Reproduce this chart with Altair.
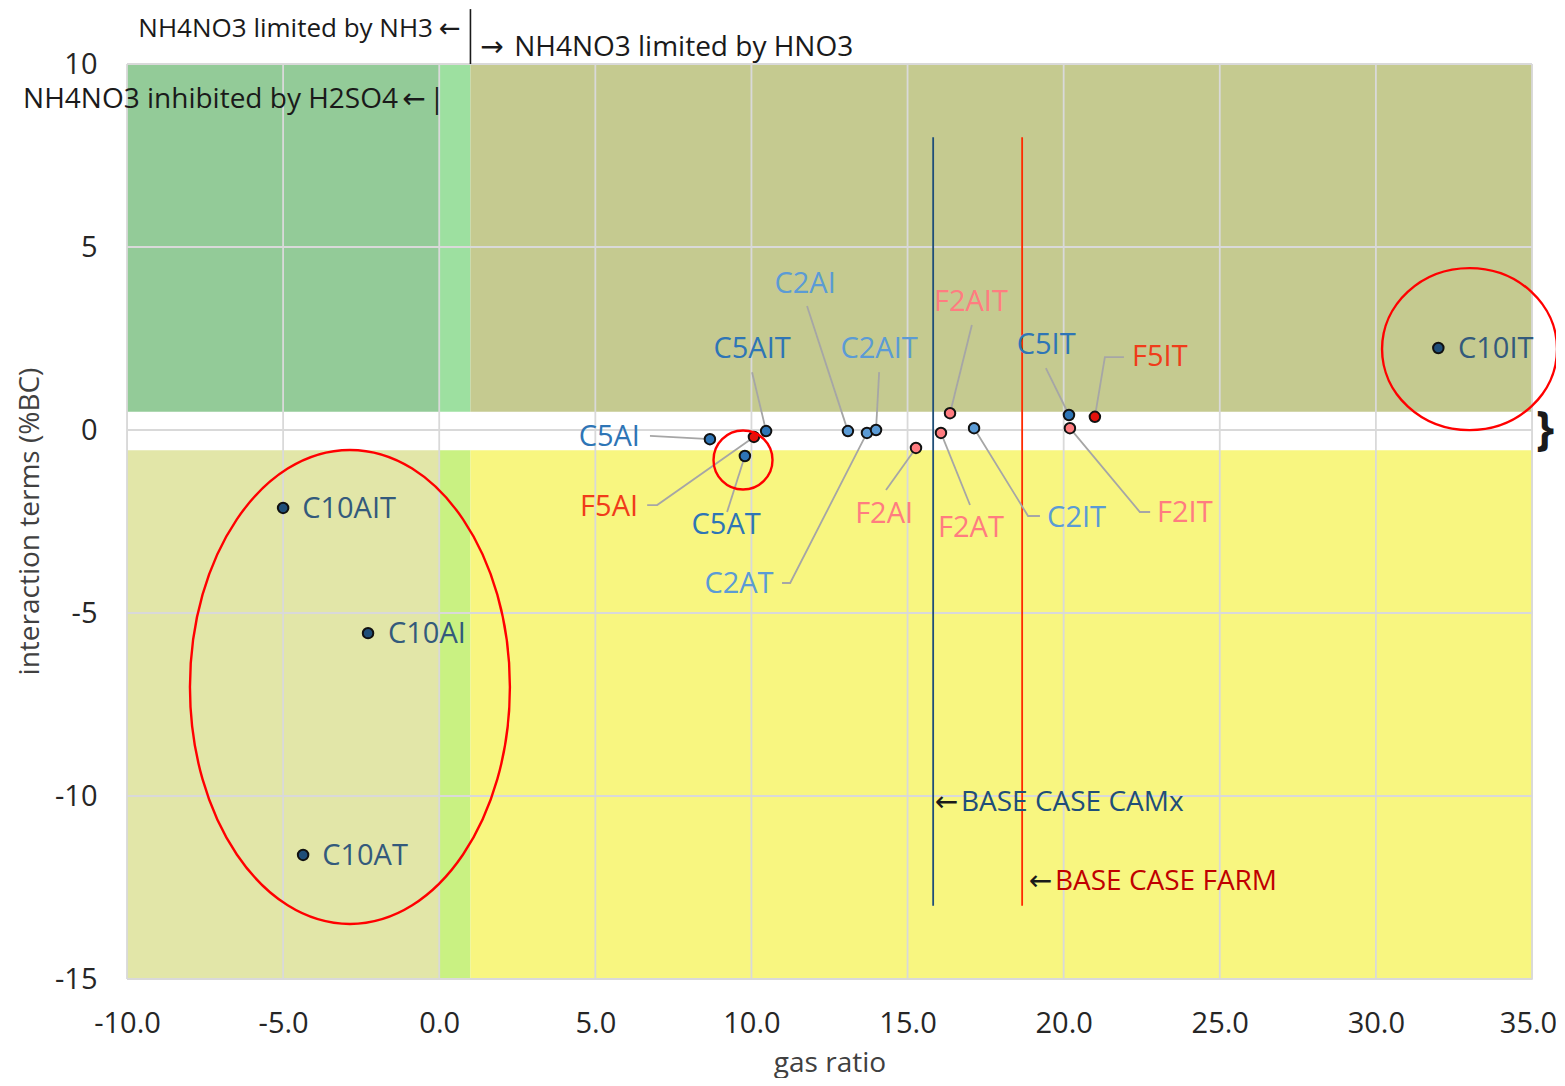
import altair as alt
import pandas as pd

FONT = "Open Sans"
ARROW_FONT = "DejaVu Sans"

# ---------------- data ----------------
names = ["C10IT", "C10AIT", "C10AI", "C10AT",
         "C5AI", "F5AI", "C5AT", "C5AIT",
         "C2AI", "C2AT", "C2AIT",
         "F2AI", "F2AT", "F2AIT",
         "C2IT", "C5IT", "F2IT", "F5IT"]
gas_ratio = [32.0, -5.0, -2.28, -4.36,
             8.67, 10.08, 9.79, 10.47,
             13.09, 13.70, 13.99,
             15.27, 16.07, 16.36,
             17.13, 20.17, 20.20, 21.0]
interaction = [2.24, -2.13, -5.55, -11.61,
               -0.25, -0.19, -0.71, -0.03,
               -0.03, -0.08, 0.0,
               -0.49, -0.08, 0.46,
               0.05, 0.41, 0.05, 0.36]
group = ["C10", "C10", "C10", "C10",
         "C5", "F5", "C5", "C5",
         "C2", "C2", "C2",
         "F2", "F2", "F2",
         "C2", "C5", "F2", "F5"]

group_fill = {"C10": "#1F4E79", "C5": "#2E75B6", "C2": "#5B9BD5",
              "F5": "#E3120B", "F2": "#FF7C80"}
group_text = {"C10": "#335A7C", "C5": "#2E75B6", "C2": "#5B9BD5",
              "F5": "#F03C1A", "F2": "#FF7C80"}

# label anchor positions (data units) and alignment
label_x = [32.63, -4.39, -1.64, -3.75,
           6.43, 6.37, 9.19, 10.02,
           11.72, 9.60, 14.09,
           14.25, 17.03, 17.03,
           19.47, 19.44, 22.99, 22.19]
label_y = [2.21, -2.16, -5.57, -11.64,
           -0.19, -2.10, -2.60, 2.21,
           3.99, -4.21, 2.21,
           -2.30, -2.68, 3.50,
           -2.40, 2.32, -2.27, 2.00]
label_align = ["left", "left", "left", "left",
               "right", "right", "center", "center",
               "center", "center", "center",
               "center", "center", "center",
               "left", "center", "left", "left"]

# leader lines (polylines from label to point), data units
leader_id = ["C5AI", "C5AI",
             "F5AI", "F5AI", "F5AI",
             "C5AT", "C5AT",
             "C5AIT", "C5AIT",
             "C2AI", "C2AI",
             "C2AIT", "C2AIT",
             "C2AT", "C2AT", "C2AT",
             "F2AIT", "F2AIT",
             "F2AI", "F2AI",
             "F2AT", "F2AT",
             "C2IT", "C2IT", "C2IT",
             "C5IT", "C5IT",
             "F5IT", "F5IT", "F5IT",
             "F2IT", "F2IT", "F2IT"]
leader_x = [6.75, 8.67,
            6.66, 6.98, 10.08,
            9.22, 9.79,
            10.02, 10.47,
            11.78, 13.09,
            14.09, 13.99,
            10.98, 11.24, 13.70,
            17.06, 16.36,
            14.31, 15.27,
            17.00, 16.07,
            19.24, 18.86, 17.13,
            19.43, 20.17,
            21.93, 21.32, 21.0,
            22.77, 22.44, 20.20]
leader_y = [-0.16, -0.25,
            -2.05, -2.05, -0.19,
            -2.24, -0.71,
            1.58, -0.03,
            3.39, -0.03,
            1.58, 0.0,
            -4.18, -4.18, -0.08,
            2.87, 0.46,
            -1.64, -0.49,
            -2.05, -0.08,
            -2.35, -2.35, 0.05,
            1.69, 0.41,
            1.99, 1.99, 0.36,
            -2.24, -2.24, 0.05]
leader_seq = [0, 1,
              0, 1, 2,
              0, 1,
              0, 1,
              0, 1,
              0, 1,
              0, 1, 2,
              0, 1,
              0, 1,
              0, 1,
              0, 1, 2,
              0, 1,
              0, 1, 2,
              0, 1, 2]

# background regions
bg_x1 = [-10, 0, 1, -10, 0, 1]
bg_x2 = [0, 1, 35, 0, 1, 35]
bg_y1 = [0.5, 0.5, 0.5, -15, -15, -15]
bg_y2 = [10, 10, 10, -0.55, -0.55, -0.55]
bg_color = ["#93CB98", "#9DE0A0", "#C5CA90", "#E2E6A8", "#C9F182", "#F8F680"]

x_ticks = [-10, -5, 0, 5, 10, 15, 20, 25, 30, 35]
y_ticks = [-15, -10, -5, 0, 5, 10]

# base case lines
base_x = [15.82, 18.67]
base_y1 = [-13.0, -13.0]
base_y2 = [8.0, 8.0]
base_color = ["#1F4E79", "#FF2A00"]

# highlight ellipses: center (data) and shape
ell_x = [33.0, -2.86, 9.73]
ell_y = [2.21, -7.02, -0.82]
ell_shape = ["M -1 0 A 1 0.926 0 1 0 1 0 A 1 0.926 0 1 0 -1 0",
             "M -0.675 0 A 0.675 1 0 1 0 0.675 0 A 0.675 1 0 1 0 -0.675 0",
             "M -1 0 A 1 1 0 1 0 1 0 A 1 1 0 1 0 -1 0"]
ell_size = [30625, 224676, 3481]

# text annotations
ann_text = ["NH4NO3 limited by NH3", "NH4NO3 limited by HNO3",
            "NH4NO3 inhibited by H2SO4", "|",
            "BASE CASE CAMx", "BASE CASE FARM"]
ann_x = [-0.20, 2.40, -1.32, -0.07, 16.71, 19.72]
ann_y = [10.95, 10.45, 9.02, 9.02, -10.19, -12.35]
ann_align = ["right", "left", "right", "center", "left", "left"]
ann_color = ["#1A1A1A", "#1A1A1A", "#1A1A1A", "#1A1A1A", "#1F4E79", "#C00000"]
ann_fs = [26, 28, 28, 28, 28, 28]

# arrow glyphs
arrow_text = ["\u2190", "\u2192", "\u2190", "\u2190", "\u2190"]
arrow_x = [0.345, 1.69, -0.81, 16.25, 19.26]
arrow_y = [10.95, 10.45, 9.02, -10.19, -12.35]
arrow_fs = [26, 28, 28, 28, 28]

# ---------------- frames ----------------
pts = pd.DataFrame({"name": names, "x": gas_ratio, "y": interaction,
                    "group": group})
pts["fill"] = pts["group"].map(group_fill)
labels = pd.DataFrame({"name": names, "x": label_x, "y": label_y,
                       "align": label_align, "group": group})
labels["color"] = labels["group"].map(group_text)
leaders = pd.DataFrame({"id": leader_id, "x": leader_x, "y": leader_y,
                        "seq": leader_seq})
bg = pd.DataFrame({"x1": bg_x1, "x2": bg_x2, "y1": bg_y1, "y2": bg_y2,
                   "c": bg_color})
gx = pd.DataFrame({"v": x_ticks})
gy = pd.DataFrame({"v": y_ticks})
base = pd.DataFrame({"x": base_x, "y1": base_y1, "y2": base_y2, "c": base_color})
ell = pd.DataFrame({"x": ell_x, "y": ell_y, "shape": ell_shape, "size": ell_size})
ann = pd.DataFrame({"t": ann_text, "x": ann_x, "y": ann_y, "align": ann_align,
                    "c": ann_color, "fs": ann_fs})
arrows = pd.DataFrame({"t": arrow_text, "x": arrow_x, "y": arrow_y,
                       "fs": arrow_fs})

xs = alt.Scale(domain=[-10, 35], nice=False, zero=False)
ys = alt.Scale(domain=[-15, 10], nice=False, zero=False)
MINUS_FIX = "replace(datum.label, '\u2212', '-')"

X = alt.X("x1:Q", scale=xs,
          axis=alt.Axis(values=x_ticks, format=".1f", labelExpr=MINUS_FIX,
                        title="gas ratio", labelFlush=False,
                        labelOffset={"condition": {"test": "datum.value == 35",
                                                   "value": -4},
                                     "value": 0},
                        grid=False, domain=False, ticks=False,
                        labelFontSize=29, labelPadding=30, labelColor="#262626",
                        labelFont=FONT, titleFont=FONT, titleFontSize=28,
                        titleFontWeight="normal", titleColor="#404040",
                        titleBaseline="middle", titleY=84))
Y = alt.Y("y1:Q", scale=ys,
          axis=alt.Axis(values=y_ticks, format="d", labelExpr=MINUS_FIX,
                        title="interaction terms (%BC)", labelFlush=False,
                        grid=False, domain=False, ticks=False,
                        labelFontSize=29, labelPadding=30, labelColor="#262626",
                        labelFont=FONT, titleFont=FONT, titleFontSize=28,
                        titleFontWeight="normal", titleColor="#404040",
                        titleBaseline="middle", titleX=-97, titleY=457))

rects = alt.Chart(bg).mark_rect().encode(
    x=X, x2="x2:Q", y=Y, y2="y2:Q",
    color=alt.Color("c:N", scale=None))

vgrid = alt.Chart(gx).mark_rule(color="#D9D9D9", strokeWidth=1.8).encode(
    x=alt.X("v:Q", scale=xs))
hgrid = alt.Chart(gy).mark_rule(color="#D9D9D9", strokeWidth=1.8).encode(
    y=alt.Y("v:Q", scale=ys))

base_lines = alt.Chart(base).mark_rule(strokeWidth=1.8).encode(
    x=alt.X("x:Q", scale=xs), y=alt.Y("y1:Q", scale=ys), y2="y2:Q",
    color=alt.Color("c:N", scale=None))

lead = alt.Chart(leaders).mark_line(color="#A6A6A6", strokeWidth=1.8).encode(
    x=alt.X("x:Q", scale=xs), y=alt.Y("y:Q", scale=ys),
    detail="id:N", order="seq:Q")

points = alt.Chart(pts).mark_point(filled=True, shape="circle", size=110,
                                   stroke="#111111", strokeWidth=2.0,
                                   opacity=1).encode(
    x=alt.X("x:Q", scale=xs), y=alt.Y("y:Q", scale=ys),
    fill=alt.Fill("fill:N", scale=None))


def text_layer(align):
    d = labels[labels["align"] == align]
    return alt.Chart(d).mark_text(font=FONT, fontSize=29, align=align,
                                  baseline="middle").encode(
        x=alt.X("x:Q", scale=xs), y=alt.Y("y:Q", scale=ys),
        text="name:N", color=alt.Color("color:N", scale=None))


lab_layers = [text_layer(a) for a in ["left", "right", "center"]]

ellipses = alt.Chart(ell).mark_point(filled=False, stroke="#FF0000",
                                     strokeWidth=2.4, opacity=1).encode(
    x=alt.X("x:Q", scale=xs), y=alt.Y("y:Q", scale=ys),
    shape=alt.Shape("shape:N", scale=None),
    size=alt.Size("size:Q", scale=None))


def ann_layer(align):
    d = ann[ann["align"] == align]
    return alt.Chart(d).mark_text(font=FONT, align=align,
                                  baseline="middle").encode(
        x=alt.X("x:Q", scale=xs), y=alt.Y("y:Q", scale=ys),
        text="t:N", color=alt.Color("c:N", scale=None),
        size=alt.Size("fs:Q", scale=None))


ann_layers = [ann_layer(a) for a in ["left", "right", "center"]]

arrow_layer = alt.Chart(arrows).mark_text(font=ARROW_FONT,
                                          align="center", baseline="middle",
                                          color="#1A1A1A").encode(
    x=alt.X("x:Q", scale=xs), y=alt.Y("y:Q", scale=ys), text="t:N",
    size=alt.Size("fs:Q", scale=None))

divider = pd.DataFrame({"x": [1.0], "y1": [10.0], "y2": [11.5]})
div_rule = alt.Chart(divider).mark_rule(color="#1A1A1A", strokeWidth=1.6).encode(
    x=alt.X("x:Q", scale=xs), y=alt.Y("y1:Q", scale=ys), y2="y2:Q")

brace = pd.DataFrame({"t": ["}"], "x": [35.42], "y": [0.0]})
brace_layer = alt.Chart(brace).mark_text(font=FONT, fontSize=46, fontWeight="bold",
                                         align="center", baseline="middle",
                                         color="#1A1A1A").encode(
    x=alt.X("x:Q", scale=xs), y=alt.Y("y:Q", scale=ys), text="t:N")

chart = alt.layer(
    rects, vgrid, hgrid, base_lines, lead, points, *lab_layers, ellipses,
    *ann_layers, arrow_layer, div_rule, brace_layer
).properties(
    width=1405, height=915,
    autosize=alt.AutoSizeParams(type="none"),
    padding={"left": 119, "top": 56, "right": 24, "bottom": 99},
).configure_view(stroke=None).configure(font=FONT)

chart.save("out.html", embed_options={"renderer": "svg", "actions": False})
